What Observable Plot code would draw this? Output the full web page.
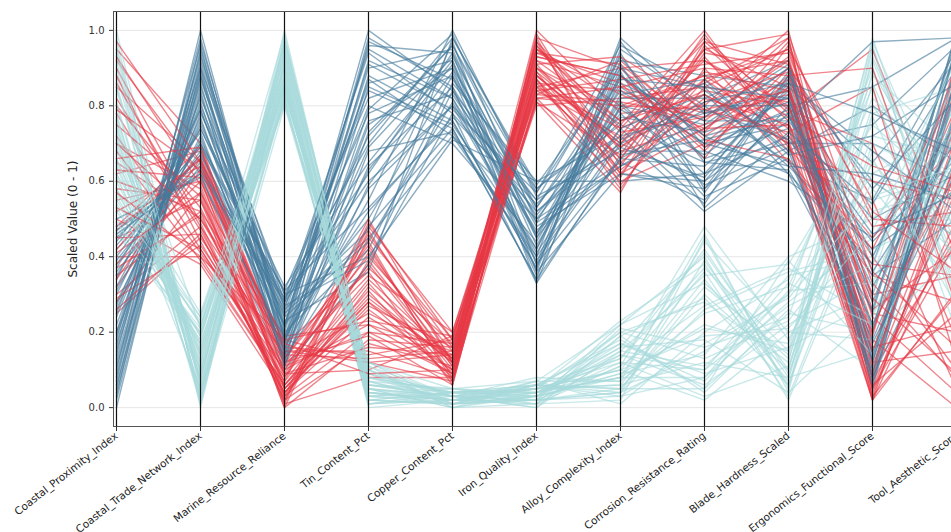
<!DOCTYPE html>
<html>
<head>
<meta charset="utf-8">
<script src="https://cdn.jsdelivr.net/npm/d3@7"></script>
<script src="https://cdn.jsdelivr.net/npm/@observablehq/plot@0.6"></script>
<style>
  html, body { margin: 0; padding: 0; background: #fff; overflow: hidden; }
  #chart svg { display: block; max-width: none !important; }
</style>
</head>
<body>
<div id="chart"></div>
<script>
const dims = ["Coastal_Proximity_Index","Coastal_Trade_Network_Index","Marine_Resource_Reliance","Tin_Content_Pct","Copper_Content_Pct","Iron_Quality_Index","Alloy_Complexity_Index","Corrosion_Resistance_Rating","Blade_Hardness_Scaled","Ergonomics_Functional_Score","Tool_Aesthetic_Score"];
const groupNames = ["Group A","Group B","Group C"];
const groupColors = ["#e63946","#457b9d","#a8dadc"];
const yTicks = [0.0,0.2,0.4,0.6,0.8,1.0];

const redRows = [
[0.92,0.62,0.05,0.30,0.12,0.95,0.80,0.88,0.92,0.10,0.45],
[0.45,0.55,0.10,0.22,0.15,0.88,0.70,0.95,0.85,0.25,0.20],
[0.30,0.48,0.02,0.45,0.18,0.92,0.85,0.78,0.98,0.05,0.60],
[0.62,0.68,0.15,0.15,0.08,0.85,0.65,0.82,0.75,0.40,0.10],
[0.78,0.42,0.08,0.38,0.10,0.98,0.90,0.92,0.80,0.15,0.75],
[0.55,0.60,0.18,0.12,0.07,0.82,0.60,0.70,0.88,0.30,0.35],
[0.35,0.52,0.03,0.48,0.20,0.90,0.75,1.00,0.70,0.02,0.50],
[0.85,0.65,0.12,0.25,0.14,0.80,0.82,0.85,0.95,0.55,0.05],
[0.40,0.40,0.06,0.33,0.09,0.96,0.68,0.75,0.82,0.20,0.85],
[0.70,0.58,0.00,0.18,0.16,0.87,0.58,0.90,0.65,0.35,0.28],
[0.25,0.45,0.14,0.42,0.11,0.93,0.88,0.68,0.90,0.08,0.65],
[0.95,0.70,0.09,0.10,0.19,0.84,0.72,0.98,0.78,0.95,0.40],
[0.50,0.38,0.04,0.28,0.13,1.00,0.78,0.80,1.00,0.12,0.15],
[0.65,0.50,0.17,0.36,0.06,0.89,0.62,0.87,0.72,0.45,0.70],
[0.32,0.63,0.11,0.20,0.17,0.83,0.92,0.72,0.86,0.03,0.30],
[0.82,0.47,0.07,0.50,0.12,0.91,0.66,0.93,0.68,0.60,0.55],
[0.58,0.55,0.01,0.08,0.08,0.86,0.84,0.76,0.93,0.18,0.00],
[0.42,0.67,0.13,0.40,0.15,0.97,0.74,0.84,0.80,0.28,0.80],
[0.88,0.44,0.05,0.26,0.10,0.81,0.57,0.96,0.76,0.06,0.25],
[0.28,0.57,0.16,0.14,0.18,0.94,0.86,0.66,0.96,0.50,0.48],
[0.72,0.41,0.10,0.44,0.07,0.88,0.70,0.89,0.84,0.22,0.62],
[0.48,0.69,0.03,0.32,0.13,0.82,0.80,0.79,0.73,0.85,0.12],
[0.60,0.52,0.19,0.22,0.09,0.99,0.64,0.94,0.90,0.14,0.90],
[0.38,0.60,0.08,0.46,0.16,0.85,0.90,0.71,0.66,0.38,0.35],
[0.90,0.49,0.02,0.17,0.11,0.92,0.76,0.86,0.98,0.04,0.58],
[0.52,0.64,0.12,0.35,0.20,0.87,0.61,0.97,0.79,0.70,0.18],
[0.68,0.39,0.06,0.28,0.08,0.95,0.83,0.74,0.87,0.26,0.42],
[0.34,0.66,0.15,0.12,0.14,0.90,0.69,0.83,0.71,0.09,0.78],
[0.80,0.53,0.09,0.41,0.12,0.84,0.87,0.91,0.94,0.33,0.08],
[0.45,0.46,0.04,0.24,0.10,0.96,0.73,0.77,0.83,0.48,0.52],
[0.75,0.56,0.03,0.20,0.09,0.90,0.79,0.88,0.74,0.02,0.66],
[0.29,0.43,0.11,0.37,0.17,0.86,0.63,0.81,0.89,0.16,0.22],
[0.63,0.61,0.00,0.47,0.12,0.94,0.91,0.73,0.97,0.07,0.47],
[0.86,0.48,0.14,0.13,0.15,0.81,0.67,0.99,0.69,0.42,0.86],
[0.47,0.66,0.06,0.31,0.07,0.98,0.59,0.85,0.81,0.02,0.31],
[0.57,0.40,0.18,0.23,0.19,0.83,0.81,0.77,0.92,0.24,0.04],
[0.93,0.59,0.02,0.39,0.11,0.89,0.71,0.92,0.77,0.64,0.57],
[0.37,0.51,0.09,0.16,0.14,0.93,0.88,0.69,0.85,0.11,0.72],
[0.66,0.69,0.13,0.43,0.08,0.87,0.66,0.95,0.99,0.36,0.16],
[0.26,0.46,0.04,0.27,0.16,0.95,0.76,0.83,0.70,0.05,0.44],
[0.79,0.63,0.17,0.09,0.10,0.82,0.85,0.90,0.88,0.90,0.27],
[0.53,0.42,0.07,0.34,0.13,0.97,0.62,0.74,0.75,0.19,0.92],
[0.41,0.57,0.01,0.49,0.18,0.85,0.74,0.97,0.91,0.52,0.36],
[0.70,0.50,0.12,0.19,0.06,0.91,0.93,0.79,0.84,0.03,0.63],
[0.97,0.65,0.05,0.29,0.12,0.88,0.69,0.87,0.95,0.29,0.09]
];

const blueRows = [
[0.05,0.95,0.20,0.90,0.95,0.45,0.85,0.70,0.75,0.30,0.90],
[0.30,0.75,0.28,0.60,0.80,0.55,0.70,0.60,0.85,0.15,0.70],
[0.15,0.88,0.15,0.75,0.90,0.38,0.95,0.80,0.65,0.55,0.95],
[0.42,0.65,0.25,0.45,0.72,0.50,0.65,0.55,0.80,0.08,0.55],
[0.10,1.00,0.18,0.98,0.85,0.35,0.80,0.75,0.90,0.40,0.85],
[0.25,0.82,0.30,0.70,0.98,0.58,0.75,0.65,0.70,0.70,0.60],
[0.00,0.90,0.12,0.85,0.75,0.42,0.90,0.85,0.62,0.20,1.00],
[0.35,0.70,0.22,0.50,0.88,0.48,0.62,0.58,0.88,0.60,0.45],
[0.20,0.78,0.32,0.65,0.92,0.33,0.88,0.72,0.78,0.10,0.80],
[0.48,0.62,0.10,0.38,0.78,0.52,0.72,0.52,0.68,0.80,0.65],
[0.08,0.92,0.26,0.95,0.82,0.40,0.98,0.78,0.82,0.25,0.98],
[0.28,0.72,0.16,0.55,1.00,0.56,0.68,0.68,0.60,0.45,0.75],
[0.12,0.85,0.24,0.80,0.70,0.44,0.82,0.82,0.92,0.05,0.88],
[0.38,0.68,0.20,0.42,0.86,0.60,0.60,0.62,0.72,0.35,0.50],
[0.18,0.96,0.14,0.88,0.76,0.37,0.92,0.88,0.85,0.65,0.92],
[0.32,0.74,0.29,0.62,0.94,0.50,0.78,0.56,0.66,0.18,0.70],
[0.02,0.88,0.21,1.00,0.84,0.46,0.86,0.76,0.76,0.50,0.62],
[0.45,0.66,0.13,0.48,0.74,0.34,0.66,0.64,0.84,0.12,0.85],
[0.22,0.80,0.27,0.72,0.96,0.57,0.96,0.84,0.70,0.75,0.96],
[0.14,0.98,0.18,0.58,0.80,0.41,0.74,0.54,0.88,0.28,0.78],
[0.40,0.70,0.31,0.82,0.90,0.53,0.84,0.70,0.64,0.42,0.58],
[0.06,0.84,0.11,0.68,0.73,0.39,0.70,0.80,0.80,0.85,0.98],
[0.26,0.76,0.23,0.36,0.98,0.59,0.90,0.66,0.74,0.22,0.66],
[0.50,0.61,0.17,0.92,0.82,0.47,0.64,0.74,0.90,0.58,0.82],
[0.16,0.93,0.28,0.78,0.88,0.36,0.94,0.58,0.78,0.32,0.72],
[0.34,0.79,0.19,0.52,0.77,0.54,0.76,0.86,0.68,0.08,0.88],
[0.04,0.87,0.25,0.86,0.92,0.43,0.80,0.62,0.86,0.68,0.52],
[0.44,0.73,0.14,0.64,0.85,0.49,0.88,0.72,0.62,0.38,0.94],
[0.20,0.90,0.30,0.40,0.71,0.60,0.72,0.78,0.84,0.14,0.76],
[0.36,0.64,0.22,0.96,0.94,0.36,0.62,0.60,0.76,0.97,0.98],
[0.11,0.83,0.17,0.76,0.83,0.51,0.79,0.67,0.83,0.06,0.92],
[0.39,0.67,0.26,0.47,0.97,0.38,0.66,0.79,0.71,0.44,0.66],
[0.03,0.97,0.21,0.91,0.79,0.57,0.91,0.57,0.87,0.12,0.84],
[0.27,0.77,0.12,0.59,0.89,0.45,0.74,0.83,0.64,0.62,0.55],
[0.47,0.63,0.29,0.84,0.74,0.34,0.97,0.69,0.79,0.09,0.97],
[0.13,0.89,0.19,0.69,0.93,0.52,0.69,0.61,0.89,0.36,0.71],
[0.31,0.71,0.24,0.44,0.81,0.42,0.83,0.87,0.67,0.72,0.86],
[0.07,0.94,0.15,0.97,0.87,0.58,0.77,0.73,0.81,0.17,0.63],
[0.43,0.69,0.31,0.53,0.76,0.37,0.89,0.53,0.73,0.54,0.90],
[0.19,0.81,0.13,0.79,0.99,0.49,0.64,0.77,0.91,0.07,0.79],
[0.37,0.74,0.27,0.39,0.84,0.55,0.93,0.65,0.63,0.26,0.99],
[0.09,0.91,0.22,0.87,0.72,0.40,0.71,0.81,0.86,0.78,0.68],
[0.24,0.79,0.18,0.63,0.91,0.46,0.81,0.59,0.69,0.13,0.88],
[0.46,0.62,0.28,0.94,0.78,0.33,0.67,0.71,0.77,0.46,0.57],
[0.17,0.86,0.11,0.73,0.96,0.53,0.87,0.85,0.82,0.21,0.95]
];

const tealRows = [
[0.95,0.05,0.90,0.02,0.01,0.02,0.05,0.30,0.10,0.80,0.50],
[0.60,0.15,0.85,0.05,0.03,0.05,0.12,0.10,0.35,0.40,0.75],
[0.75,0.02,0.95,0.08,0.02,0.01,0.02,0.45,0.05,0.95,0.30],
[0.50,0.20,0.82,0.01,0.04,0.06,0.18,0.05,0.25,0.20,0.85],
[0.85,0.10,0.98,0.10,0.00,0.03,0.08,0.22,0.15,0.65,0.40],
[0.65,0.08,0.88,0.03,0.05,0.07,0.22,0.40,0.02,0.55,0.62],
[0.55,0.22,0.80,0.12,0.01,0.02,0.04,0.15,0.30,0.90,0.25],
[0.98,0.00,0.92,0.04,0.02,0.04,0.10,0.02,0.20,0.30,0.90],
[0.70,0.12,0.86,0.06,0.03,0.00,0.15,0.35,0.38,0.75,0.55],
[0.48,0.18,0.96,0.02,0.04,0.05,0.06,0.12,0.08,0.15,0.70],
[0.80,0.04,0.84,0.09,0.01,0.03,0.20,0.28,0.12,0.98,0.35],
[0.62,0.25,0.90,0.00,0.02,0.06,0.03,0.08,0.28,0.45,0.80],
[0.90,0.07,1.00,0.07,0.05,0.02,0.11,0.48,0.18,0.60,0.45],
[0.58,0.14,0.83,0.11,0.00,0.04,0.16,0.18,0.04,0.25,0.65],
[0.72,0.03,0.94,0.05,0.03,0.08,0.07,0.25,0.32,0.85,0.20],
[0.46,0.20,0.87,0.01,0.02,0.01,0.14,0.06,0.22,0.35,0.95],
[0.88,0.09,0.91,0.08,0.04,0.05,0.23,0.38,0.06,0.70,0.58],
[0.66,0.16,0.81,0.03,0.01,0.03,0.09,0.14,0.40,0.50,0.72],
[0.78,0.01,0.97,0.10,0.03,0.06,0.05,0.32,0.14,0.92,0.38],
[0.52,0.23,0.85,0.04,0.02,0.02,0.19,0.04,0.26,0.10,0.88],
[0.68,0.11,0.93,0.06,0.05,0.04,0.13,0.42,0.09,0.68,0.48],
[1.00,0.06,0.89,0.02,0.01,0.07,0.01,0.20,0.34,0.82,0.60],
[0.56,0.19,0.84,0.12,0.03,0.03,0.17,0.09,0.16,0.28,0.78],
[0.74,0.13,0.95,0.07,0.02,0.05,0.10,0.36,0.03,0.58,0.32],
[0.62,0.05,0.82,0.03,0.04,0.01,0.21,0.16,0.24,0.88,0.68],
[0.84,0.21,0.99,0.05,0.00,0.06,0.04,0.26,0.36,0.42,0.52],
[0.47,0.17,0.86,0.09,0.03,0.02,0.12,0.03,0.11,0.78,0.85],
[0.76,0.08,0.92,0.01,0.02,0.04,0.08,0.44,0.20,0.18,0.42],
[0.58,0.24,0.88,0.06,0.04,0.03,0.15,0.11,0.30,0.62,0.74],
[0.92,0.02,0.80,0.04,0.01,0.05,0.06,0.34,0.07,0.96,0.28],
[0.64,0.10,0.87,0.04,0.02,0.03,0.09,0.21,0.17,0.72,0.66],
[0.53,0.19,0.93,0.08,0.04,0.06,0.17,0.07,0.31,0.33,0.81],
[0.81,0.04,0.82,0.02,0.01,0.02,0.04,0.39,0.08,0.86,0.37],
[0.69,0.15,0.96,0.11,0.03,0.05,0.20,0.13,0.23,0.52,0.59],
[0.57,0.22,0.85,0.05,0.00,0.01,0.11,0.27,0.37,0.24,0.76],
[0.94,0.01,0.91,0.03,0.02,0.07,0.07,0.46,0.04,0.93,0.43],
[0.61,0.17,0.81,0.09,0.04,0.04,0.14,0.10,0.27,0.38,0.87],
[0.73,0.07,0.98,0.01,0.03,0.02,0.22,0.33,0.13,0.77,0.33],
[0.49,0.21,0.88,0.07,0.01,0.06,0.05,0.05,0.39,0.14,0.69],
[0.86,0.03,0.83,0.12,0.05,0.03,0.16,0.41,0.10,0.89,0.51],
[0.66,0.12,0.94,0.04,0.02,0.05,0.10,0.19,0.21,0.47,0.92],
[0.77,0.09,0.86,0.06,0.03,0.00,0.19,0.29,0.06,0.66,0.27],
[0.54,0.24,0.90,0.02,0.04,0.04,0.08,0.08,0.33,0.22,0.73],
[0.96,0.05,0.97,0.10,0.01,0.06,0.13,0.37,0.15,0.97,0.46],
[0.71,0.14,0.84,0.05,0.02,0.02,0.03,0.17,0.29,0.56,0.64]
];

const rowsByGroup = [redRows, blueRows, tealRows];
const records = [];
const n = Math.max(...rowsByGroup.map(r => r.length));
for (let i = 0; i < n; i++) {
  rowsByGroup.forEach((rows, g) => {
    if (rows[i]) records.push({id: records.length, group: groupNames[g], values: rows[i]});
  });
}
const flat = records.flatMap(r => dims.map((d, j) => ({dim: d, value: r.values[j], id: r.id, group: r.group})));

const chart = Plot.plot({
  width: 1000,
  height: 532,
  marginLeft: 113,
  marginRight: 42,
  marginTop: 11,
  marginBottom: 106,
  style: {fontFamily: "DejaVu Sans", fontSize: "10px", color: "#333", background: "#fff", maxWidth: "none"},
  x: {type: "point", domain: dims, padding: 0, label: null},
  y: {domain: [-0.05, 1.05], label: null},
  color: {domain: groupNames, range: groupColors},
  marks: [
    Plot.gridY(yTicks, {stroke: "#e6e6e6", strokeOpacity: 1}),
    Plot.line(flat, {x: "dim", y: "value", z: "id", stroke: "group", strokeOpacity: 0.62, strokeWidth: 1.4}),
    Plot.ruleX(dims, {stroke: "#111", strokeWidth: 1.2}),
    Plot.frame({stroke: "#555", strokeWidth: 1}),
    Plot.axisY(yTicks, {tickFormat: d => d.toFixed(1), tickSize: 4, tickPadding: 5, label: null, fill: "#333", stroke: "#333"}),
    Plot.axisX({tickRotate: -38, tickSize: 5, tickPadding: 3, label: null, fill: "#222", stroke: "#333", fontSize: 10.5}),
    Plot.text(["Scaled Value (0 - 1)"], {frameAnchor: "left", dx: -40, rotate: -90, fontSize: 12, fill: "#222", textAnchor: "middle"})
  ]
});
chart.style.maxWidth = "none";
chart.style.width = "1000px";
chart.style.height = "532px";
document.getElementById("chart").appendChild(chart);
</script>
</body>
</html>
